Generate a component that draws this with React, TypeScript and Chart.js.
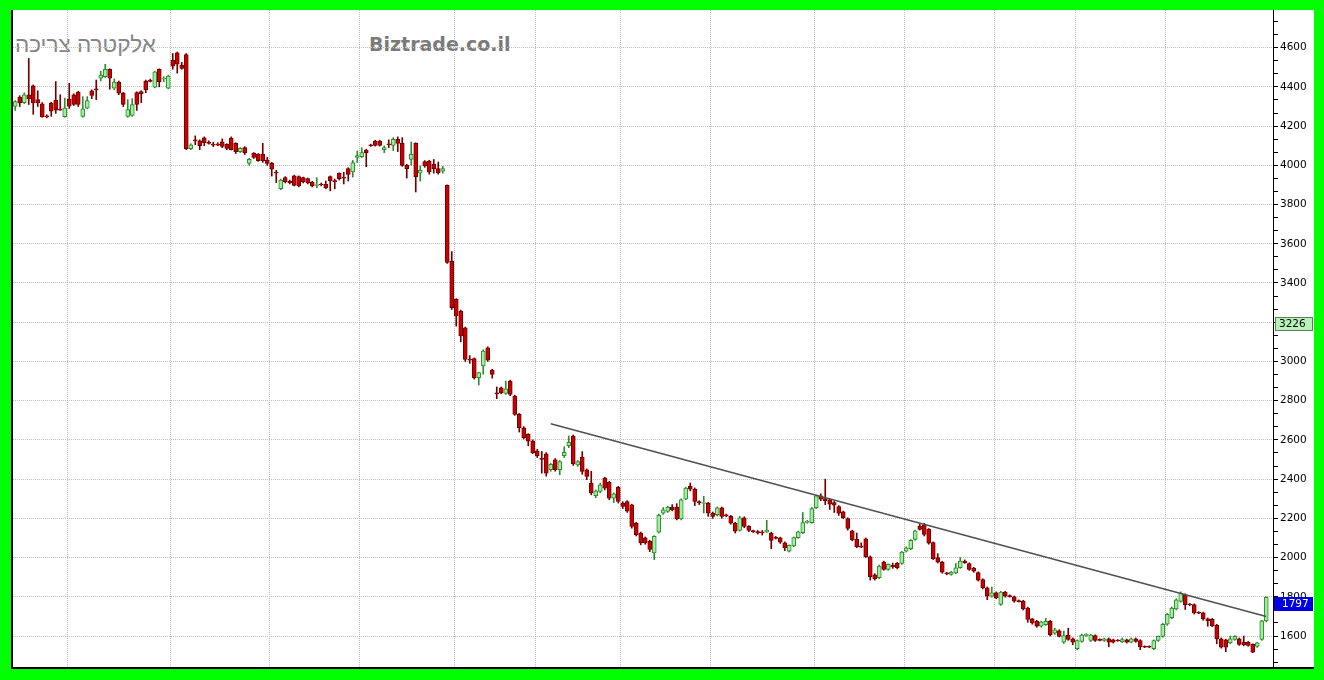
import React, { useEffect, useRef } from 'react';
import { Chart, registerables } from 'chart.js';

Chart.register(...registerables);

// Each candle: [open, high, low, close]
const segA: number[][] = [
  [4300, 4330, 4280, 4325], [4348, 4355, 4300, 4318], [4320, 4370, 4315, 4360], [4360, 4545, 4310, 4338],
  [4405, 4410, 4260, 4318], [4335, 4380, 4300, 4318], [4314, 4320, 4245, 4247], [4252, 4258, 4242, 4247],
  [4318, 4322, 4250, 4276], [4331, 4427, 4265, 4281], [4287, 4360, 4280, 4281], [4248, 4343, 4245, 4292],
  [4338, 4418, 4290, 4301], [4360, 4365, 4305, 4310], [4373, 4378, 4300, 4310], [4250, 4350, 4245, 4288],
  [4292, 4350, 4288, 4330], [4380, 4385, 4340, 4356], [4390, 4435, 4335, 4385], [4444, 4480, 4430, 4460],
  [4452, 4515, 4448, 4489], [4489, 4492, 4388, 4444], [4393, 4440, 4385, 4424], [4424, 4430, 4360, 4368],
  [4368, 4372, 4300, 4310], [4250, 4335, 4245, 4284], [4254, 4340, 4250, 4310], [4371, 4375, 4280, 4310],
  [4376, 4380, 4320, 4365], [4430, 4435, 4370, 4385], [4433, 4440, 4425, 4428], [4398, 4480, 4395, 4477],
  [4489, 4492, 4400, 4427], [4440, 4452, 4427, 4445], [4393, 4460, 4390, 4455], [4536, 4570, 4490, 4506],
  [4573, 4578, 4470, 4516], [4511, 4525, 4490, 4494], [4565, 4570, 4080, 4085], [4085, 4110, 4080, 4105],
  [4130, 4150, 4105, 4124], [4125, 4130, 4080, 4100], [4140, 4145, 4100, 4116], [4118, 4125, 4108, 4112],
  [4108, 4118, 4095, 4103], [4108, 4115, 4100, 4103], [4120, 4135, 4090, 4096], [4107, 4110, 4080, 4086],
  [4138, 4145, 4078, 4080], [4112, 4115, 4060, 4070], [4070, 4090, 4065, 4087], [4090, 4095, 4055, 4065],
  [4010, 4035, 4000, 4030], [4062, 4065, 4035, 4040], [4057, 4060, 4020, 4024], [4057, 4112, 4015, 4024],
];

const segB: number[][] = [
  [4027, 4040, 4000, 4010], [4010, 4015, 3945, 3980], [3966, 3975, 3912, 3960], [3881, 3930, 3876, 3925],
  [3937, 3942, 3910, 3915], [3918, 3925, 3905, 3912], [3946, 3950, 3895, 3898], [3942, 3946, 3890, 3895],
  [3937, 3940, 3910, 3915], [3932, 3935, 3905, 3912], [3915, 3918, 3890, 3895], [3898, 3937, 3886, 3902],
  [3905, 3910, 3895, 3901], [3903, 3920, 3880, 3886], [3942, 3946, 3870, 3920], [3922, 3930, 3880, 3917],
  [3959, 3962, 3925, 3932], [3939, 3965, 3905, 3935], [3983, 3988, 3920, 3954], [3966, 4025, 3940, 4014],
  [4040, 4073, 4014, 4050], [4044, 4090, 4040, 4065], [4078, 4082, 3993, 4065], [4104, 4108, 4096, 4100],
  [4124, 4128, 4098, 4102], [4124, 4128, 4098, 4102], [4080, 4099, 4065, 4090], [4109, 4130, 4090, 4105],
  [4102, 4141, 4075, 4133], [4133, 4145, 4070, 4112], [4112, 4141, 3995, 4000], [4000, 4005, 3935, 3983],
  [4030, 4119, 4000, 4056], [4112, 4115, 3864, 3942], [3960, 3997, 3920, 3975], [4019, 4024, 3990, 3997],
  [4022, 4026, 3955, 3966], [4005, 4030, 3960, 3983], [3983, 4017, 3955, 3963], [3970, 3995, 3960, 3983],
  [3898, 3900, 3500, 3505], [3512, 3560, 3265, 3274], [3317, 3320, 3180, 3232], [3257, 3262, 3100, 3130],
  [3172, 3175, 3000, 3010], [3012, 3030, 2990, 3007], [3014, 3018, 2910, 2917], [2917, 2945, 2880, 2943],
  [2977, 3060, 2935, 3053], [3070, 3075, 3000, 3007], [2956, 2960, 2915, 2934], [2840, 2870, 2810, 2835],
  [2866, 2870, 2835, 2840], [2837, 2900, 2832, 2861], [2900, 2905, 2825, 2832], [2824, 2828, 2725, 2730],
  [2730, 2735, 2640, 2662], [2662, 2668, 2605, 2611], [2628, 2632, 2570, 2594], [2594, 2600, 2530, 2534],
  [2543, 2552, 2510, 2520],
];

const segC: number[][] = [
  [2506, 2541, 2430, 2500], [2529, 2535, 2415, 2430], [2448, 2480, 2440, 2476], [2498, 2505, 2440, 2448],
  [2448, 2495, 2422, 2490], [2519, 2565, 2510, 2537], [2570, 2620, 2560, 2588], [2620, 2625, 2470, 2478],
  [2473, 2495, 2465, 2490], [2512, 2540, 2425, 2439], [2447, 2452, 2397, 2414], [2380, 2440, 2320, 2329],
  [2315, 2345, 2305, 2340], [2337, 2380, 2330, 2371], [2405, 2410, 2345, 2354], [2383, 2388, 2295, 2303],
  [2303, 2330, 2280, 2325], [2358, 2363, 2278, 2286], [2278, 2285, 2250, 2261], [2286, 2290, 2230, 2236],
  [2269, 2272, 2150, 2159], [2176, 2180, 2110, 2117], [2125, 2130, 2065, 2075], [2100, 2105, 2068, 2075],
  [2083, 2088, 2030, 2041], [2024, 2112, 1990, 2108], [2129, 2222, 2125, 2215], [2227, 2255, 2220, 2244],
  [2235, 2262, 2230, 2258], [2258, 2270, 2238, 2244], [2258, 2275, 2192, 2197], [2197, 2300, 2192, 2295],
  [2298, 2358, 2295, 2354], [2363, 2380, 2340, 2349], [2349, 2355, 2265, 2286], [2285, 2290, 2270, 2279],
  [2276, 2312, 2227, 2281], [2278, 2282, 2210, 2227], [2227, 2232, 2200, 2210], [2219, 2258, 2212, 2253],
  [2253, 2258, 2200, 2210], [2218, 2222, 2208, 2212], [2210, 2215, 2170, 2176], [2176, 2180, 2125, 2134],
  [2139, 2210, 2135, 2202], [2202, 2208, 2152, 2159], [2159, 2163, 2132, 2139], [2137, 2140, 2128, 2131],
  [2132, 2138, 2120, 2126], [2131, 2138, 2115, 2126], [2130, 2190, 2128, 2140], [2125, 2130, 2045, 2088],
  [2103, 2108, 2095, 2097], [2100, 2104, 2072, 2078], [2075, 2080, 2035, 2049],
];

const segD: number[][] = [
  [2033, 2065, 2028, 2062], [2059, 2105, 2055, 2102], [2102, 2135, 2098, 2131], [2127, 2230, 2122, 2178],
  [2179, 2190, 2175, 2185], [2178, 2255, 2175, 2250], [2255, 2318, 2250, 2315], [2315, 2325, 2290, 2298],
  [2301, 2400, 2270, 2290], [2294, 2300, 2245, 2272], [2281, 2286, 2230, 2267], [2260, 2265, 2215, 2226],
  [2233, 2237, 2198, 2204], [2199, 2203, 2140, 2148], [2136, 2140, 2085, 2090], [2093, 2125, 2050, 2056],
  [2059, 2075, 2050, 2053], [2096, 2100, 2000, 2004], [2004, 2008, 1885, 1902], [1912, 1918, 1885, 1892],
  [1897, 1962, 1892, 1957], [1977, 1982, 1935, 1940], [1940, 1968, 1935, 1965], [1960, 1972, 1945, 1954],
  [1970, 1975, 1942, 1948], [1970, 2032, 1965, 2028], [2033, 2055, 2028, 2050], [2045, 2092, 2040, 2088],
  [2093, 2140, 2088, 2136], [2161, 2170, 2140, 2144], [2165, 2175, 2110, 2118], [2144, 2148, 2068, 2073],
  [2076, 2080, 1990, 1994], [2000, 2020, 1972, 1977], [1977, 1981, 1920, 1926], [1922, 1925, 1912, 1916],
  [1914, 1930, 1910, 1926], [1922, 1970, 1918, 1948], [1948, 2000, 1945, 1982], [1982, 1988, 1970, 1974],
  [1969, 1973, 1935, 1940], [1946, 1950, 1925, 1931], [1923, 1927, 1880, 1885], [1888, 1892, 1840, 1846],
  [1846, 1850, 1785, 1803], [1803, 1850, 1798, 1820], [1820, 1825, 1790, 1795], [1761, 1828, 1756, 1824],
  [1824, 1828, 1798, 1803], [1806, 1810, 1798, 1800], [1800, 1804, 1772, 1778], [1781, 1784, 1773, 1775],
  [1778, 1782, 1733, 1738], [1743, 1747, 1670, 1684], [1687, 1690, 1660, 1667], [1675, 1680, 1645, 1650],
  [1650, 1676, 1645, 1672], [1658, 1690, 1654, 1675], [1675, 1680, 1600, 1607], [1615, 1640, 1608, 1632],
];

const segE: number[][] = [
  [1627, 1632, 1595, 1598], [1568, 1625, 1562, 1602], [1605, 1640, 1578, 1582], [1585, 1590, 1555, 1568],
  [1535, 1580, 1530, 1577], [1572, 1610, 1568, 1605], [1603, 1612, 1598, 1608], [1577, 1608, 1572, 1605],
  [1602, 1606, 1572, 1577], [1583, 1586, 1575, 1578], [1577, 1590, 1572, 1585], [1585, 1590, 1545, 1568],
  [1580, 1584, 1564, 1568], [1579, 1582, 1573, 1575], [1570, 1590, 1566, 1582], [1580, 1584, 1564, 1568],
  [1568, 1590, 1565, 1585], [1585, 1590, 1568, 1572], [1577, 1581, 1530, 1545], [1547, 1550, 1541, 1543],
  [1547, 1550, 1540, 1543], [1535, 1580, 1530, 1577], [1577, 1600, 1572, 1598], [1598, 1665, 1594, 1660],
  [1660, 1715, 1655, 1710], [1693, 1748, 1688, 1743], [1738, 1790, 1733, 1785], [1777, 1825, 1772, 1818],
  [1810, 1815, 1735, 1760], [1763, 1766, 1755, 1758], [1760, 1764, 1712, 1718], [1721, 1724, 1714, 1716],
  [1718, 1722, 1680, 1688], [1688, 1692, 1650, 1677], [1685, 1690, 1648, 1652], [1655, 1660, 1560, 1585],
  [1585, 1590, 1538, 1543], [1580, 1584, 1520, 1543], [1565, 1600, 1560, 1585], [1582, 1602, 1578, 1598],
  [1585, 1590, 1552, 1557], [1568, 1600, 1550, 1555], [1568, 1572, 1548, 1552], [1557, 1560, 1515, 1518],
  [1547, 1568, 1542, 1565], [1582, 1680, 1578, 1677], [1677, 1800, 1672, 1797],
];

const candles: number[][] = [...segA, ...segB, ...segC, ...segD, ...segE];

// y-axis labels and range
const yLabels = [1600, 1800, 2000, 2200, 2400, 2600, 2800, 3000, 3200, 3400, 3600, 3800, 4000, 4200, 4400, 4600];
const yMin = 1442;
const yMax = 4792;
// month boundaries (in candle index units)
const monthBounds = [11.5, 34.5, 56.5, 76.5, 97.5, 115.5, 134.5, 154.5, 177.5, 197.5, 217.5, 235.5, 255.5];
// downward trend line end points [index, value]
const trendPoints = [
  [119, 2682],
  [278, 1700],
];
// price tags on the right axis
const priceTags = [
  { value: 3226, label: '3226', bg: '#b8f2b8', border: '#5f7f5f', color: '#000000', inset: 2, textX: 4 },
  { value: 1797, label: '1797', bg: '#0000e0', border: '#0000e0', color: '#ffffff', inset: 1, textX: 8 },
];

const RED = '#cc0000';
const RED_DARK = '#700000';
const GREEN = '#9ef09e';
const GREEN_DARK = '#2f8a2f';
const GRID = '#bdbdbd';
const AXIS_FONT = { family: '"DejaVu Sans", sans-serif', size: 10.5 };

const isUp = (i: number) => candles[i][3] >= candles[i][0];

const priceTagPlugin = {
  id: 'priceTags',
  afterDraw(chart: any) {
    const { ctx, chartArea, scales } = chart;
    const ys = scales.y;
    ctx.save();
    for (const t of priceTags) {
      const py = Math.round(ys.getPixelForValue(t.value));
      const x0 = chartArea.right + t.inset;
      const w = chart.width - x0 - 1;
      ctx.fillStyle = t.bg;
      ctx.fillRect(x0, py, w, 14);
      ctx.strokeStyle = t.border;
      ctx.lineWidth = 1;
      ctx.strokeRect(x0 + 0.5, py + 0.5, w - 1, 13);
      ctx.fillStyle = t.color;
      ctx.font = '10.5px "DejaVu Sans", sans-serif';
      ctx.textBaseline = 'middle';
      ctx.textAlign = 'left';
      ctx.fillText(t.label, x0 + t.textX, py + 7.5);
    }
    ctx.restore();
  },
};

export default function App() {
  const ref = useRef<HTMLCanvasElement>(null);

  useEffect(() => {
    document.body.style.margin = '0';
    document.body.style.background = '#00ff00';
    const bodies = candles.map((c, i) => ({ x: i, y: [c[0], c[3]] }));
    const wicks = candles.map((c, i) => ({ x: i, y: [c[2], c[1]] }));
    const trend = trendPoints.map((p) => ({ x: p[0], y: p[1] }));

    const chart = new Chart(ref.current as HTMLCanvasElement, {
      type: 'bar',
      data: {
        datasets: [
          {
            type: 'line',
            data: trend as any,
            borderColor: '#505050',
            borderWidth: 1.5,
            pointRadius: 0,
            order: 0,
          } as any,
          {
            data: bodies as any,
            grouped: false,
            barThickness: 4,
            borderWidth: 1,
            borderSkipped: false,
            backgroundColor: (ctx: any) => (isUp(ctx.dataIndex) ? GREEN : RED),
            borderColor: (ctx: any) => (isUp(ctx.dataIndex) ? GREEN_DARK : RED_DARK),
            order: 1,
          } as any,
          {
            data: wicks as any,
            grouped: false,
            barThickness: 1,
            borderWidth: 0,
            backgroundColor: (ctx: any) => (isUp(ctx.dataIndex) ? GREEN_DARK : RED_DARK),
            order: 2,
          } as any,
        ],
      },
      options: {
        animation: false,
        responsive: true,
        maintainAspectRatio: false,
        layout: { padding: 0 },
        plugins: { legend: { display: false }, tooltip: { enabled: false } },
        scales: {
          x: {
            type: 'linear',
            min: -0.5,
            max: candles.length + 0.5,
            offset: false,
            ticks: { display: false },
            grid: { color: GRID, drawTicks: false, lineWidth: 1, offset: false },
            border: { display: false, dash: [1, 1] },
            afterBuildTicks: (s: any) => {
              s.ticks = monthBounds.map((v) => ({ value: v }));
            },
            afterFit: (s: any) => {
              s.height = 0;
              s.paddingLeft = 0;
              s.paddingRight = 0;
            },
          },
          y: {
            type: 'linear',
            position: 'right',
            min: yMin,
            max: yMax,
            ticks: {
              autoSkip: false,
              padding: 2,
              color: '#000',
              font: AXIS_FONT,
              callback: (v: any) => (yLabels.includes(Math.round(v)) && Math.abs(v - Math.round(v)) < 0.01 ? String(Math.round(v)) : ''),
            },
            grid: {
              color: (ctx: any) => {
                const v = ctx.tick ? ctx.tick.value : 0;
                return yLabels.includes(v) ? GRID : 'rgba(0,0,0,0)';
              },
              tickColor: '#000',
              tickLength: 5,
              lineWidth: 1,
            },
            border: { display: true, color: '#000', width: 1, dash: [1, 1] },
            afterBuildTicks: (s: any) => {
              const step = (yLabels[1] - yLabels[0]) / 3;
              const majors = [yLabels[0] - 200, ...yLabels, yLabels[yLabels.length - 1] + 200];
              const t: any[] = [];
              majors.forEach((m) => {
                [0, 1, 2].forEach((k) => {
                  const v = k === 0 ? m : m + k * step;
                  if (v >= yMin && v <= yMax) t.push({ value: v });
                });
              });
              s.ticks = t;
            },
            afterFit: (s: any) => {
              s.width = 41;
              s.paddingTop = 0;
              s.paddingBottom = 0;
            },
          },
        },
      },
      plugins: [priceTagPlugin],
    } as any);
    return () => chart.destroy();
  }, []);

  return (
    <div
      style={{
        position: 'fixed',
        left: 11,
        top: 10,
        width: 1303,
        height: 659,
        background: '#ffffff',
        borderLeft: '2px solid #000',
        borderBottom: '2px solid #000',
        boxSizing: 'border-box',
        overflow: 'hidden',
      }}
    >
      <div
        dir="rtl"
        style={{
          position: 'absolute',
          left: 2,
          top: 24,
          fontFamily: '"Liberation Sans", "DejaVu Sans", sans-serif',
          fontSize: 22.5,
          lineHeight: 1,
          color: '#858585',
          whiteSpace: 'nowrap',
        }}
      >
        אלקטרה צריכה
      </div>
      <div
        style={{
          position: 'absolute',
          left: 356,
          top: 25,
          fontFamily: '"DejaVu Sans", sans-serif',
          fontWeight: 'bold',
          fontSize: 19,
          lineHeight: 1,
          color: '#7a7a7a',
          whiteSpace: 'nowrap',
        }}
      >
        Biztrade.co.il
      </div>
      <div style={{ position: 'absolute', left: 0, top: 0, right: 0, bottom: 0 }}>
        <canvas ref={ref} style={{ display: 'block' }} />
      </div>
    </div>
  );
}
